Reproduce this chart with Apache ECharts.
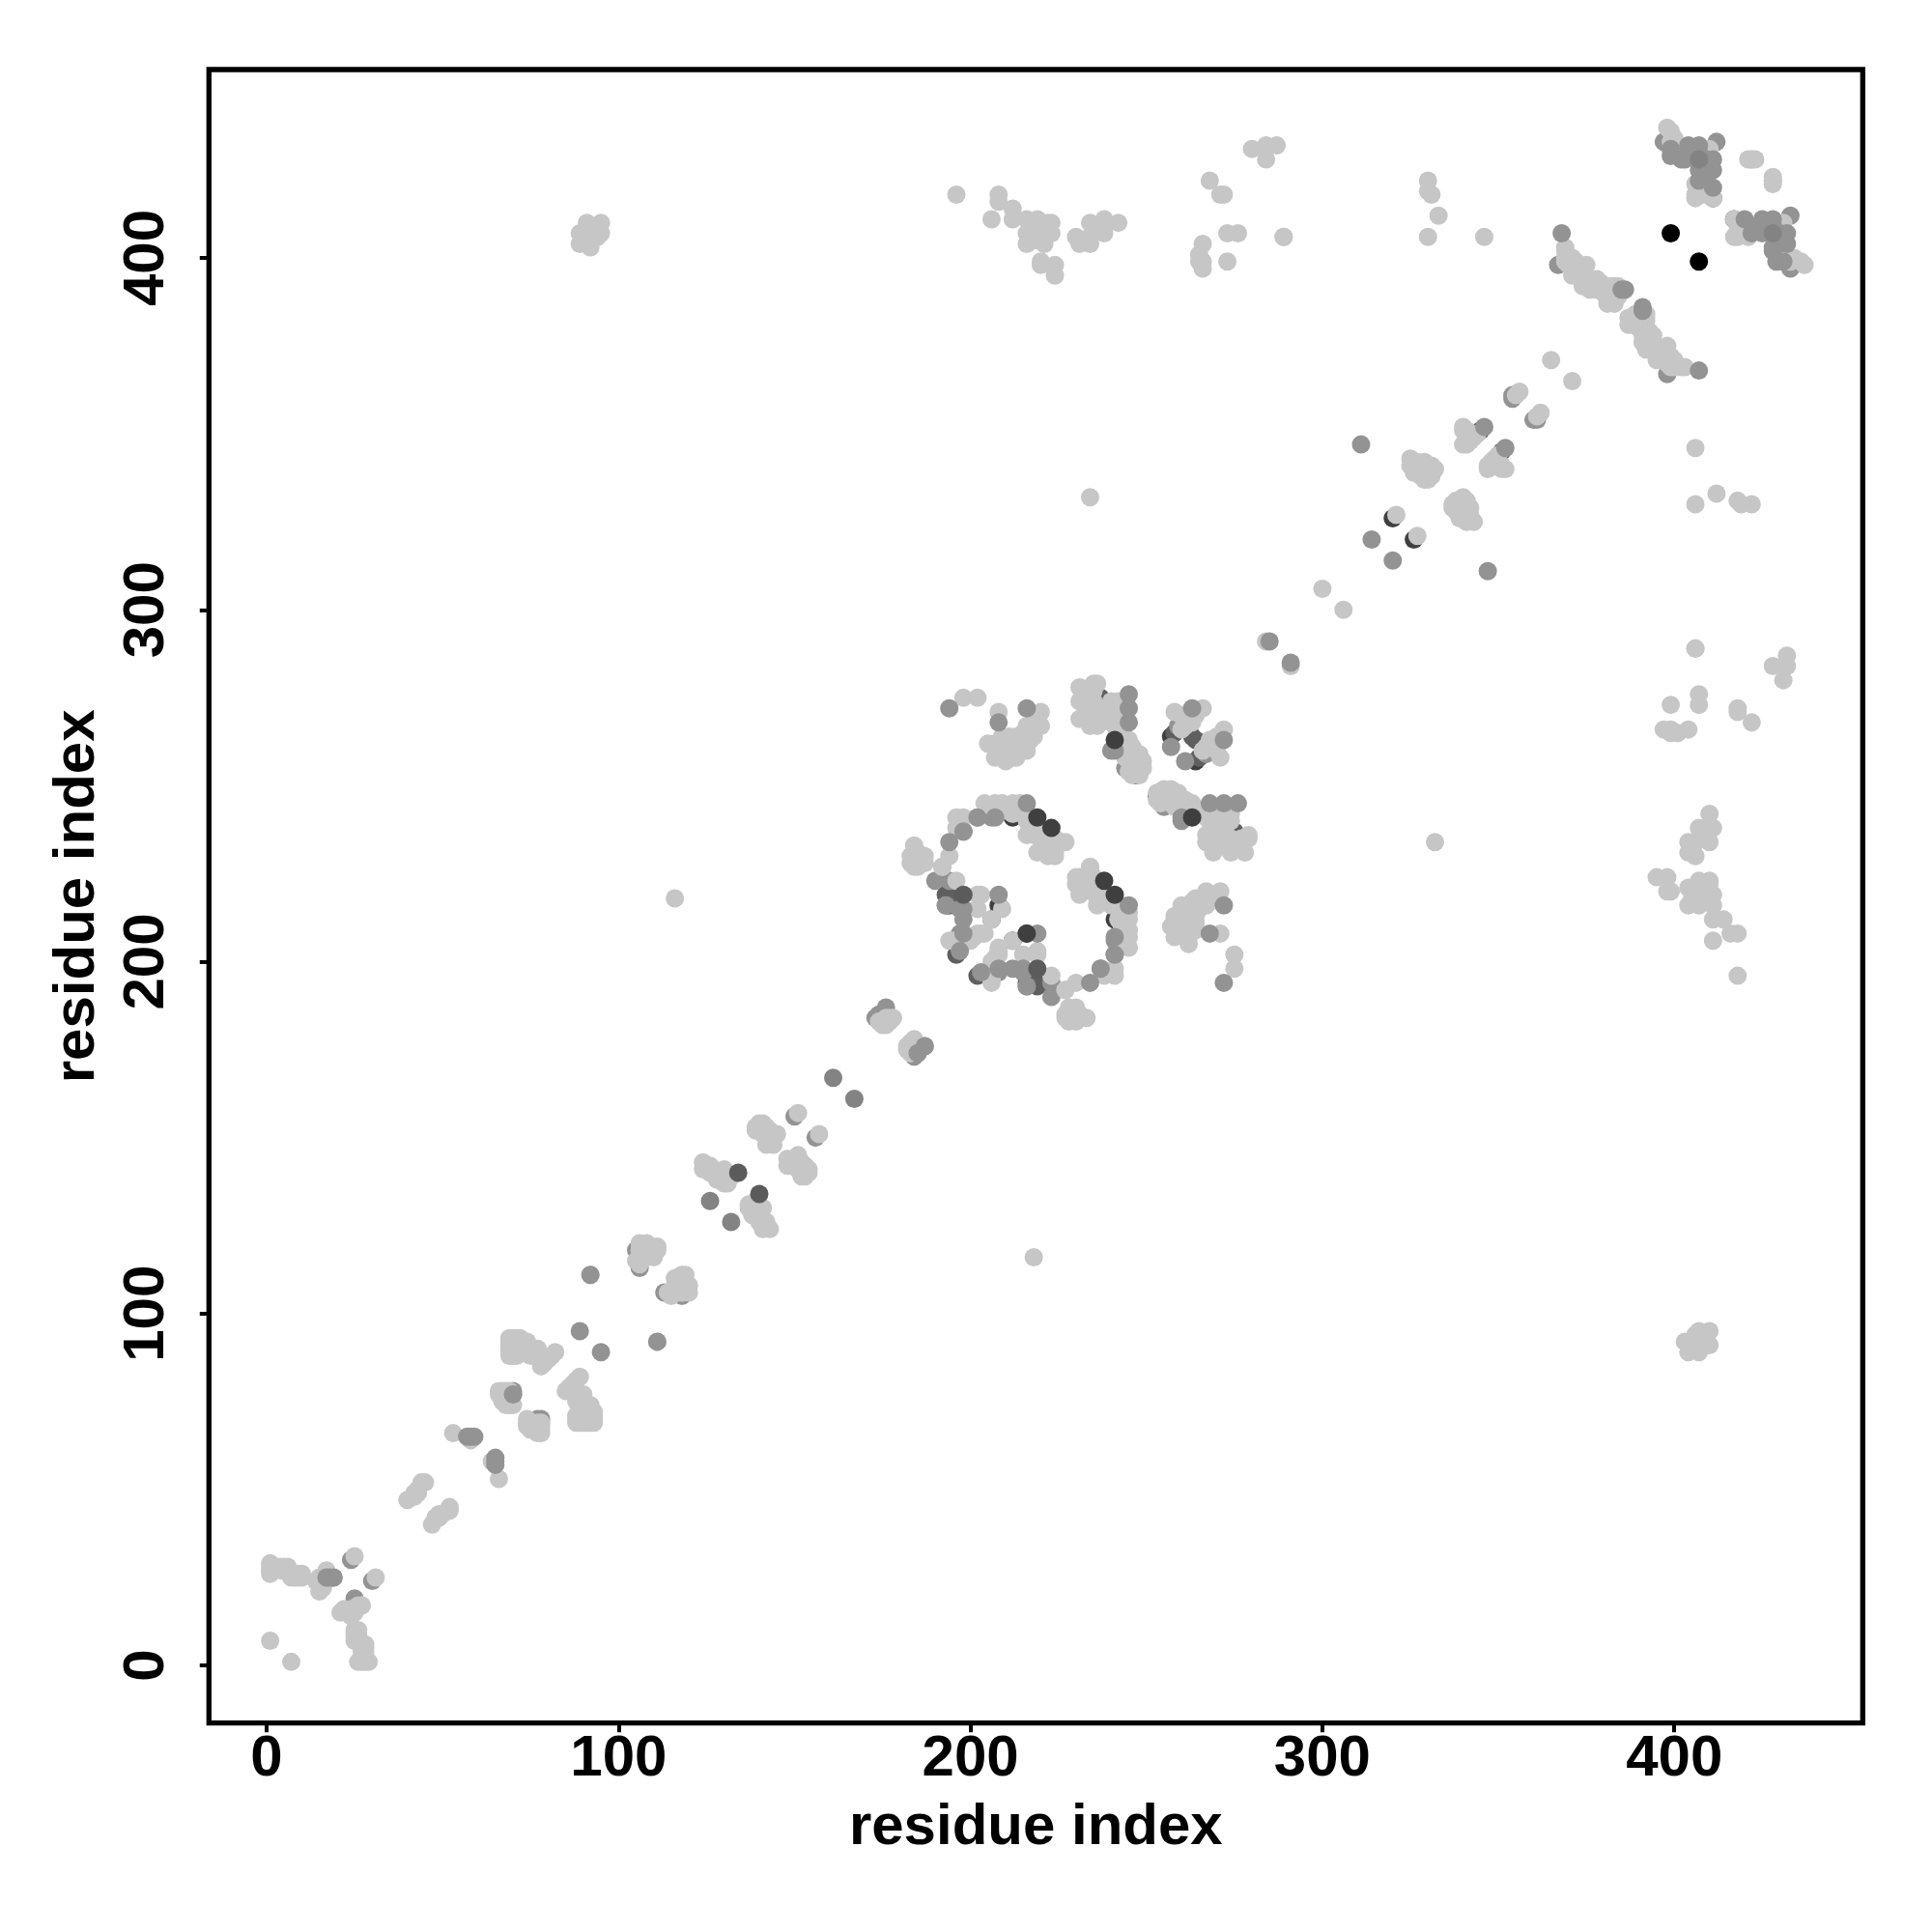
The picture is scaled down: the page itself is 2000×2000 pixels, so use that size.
<!DOCTYPE html>
<html><head><meta charset="utf-8">
<script src="https://cdn.jsdelivr.net/npm/echarts@6/dist/echarts.min.js"></script>
<style>html,body{margin:0;padding:0;background:#fff}#c{width:2000px;height:2000px}</style>
</head><body><div id="c"></div>
<script>
const tickValues = [0,100,200,300,400];
const axisTitle = 'residue index';
// contacts [i,j], each drawn also at [j,i]
const underVeryDark = [[212,241],[257,264],[320,326],[208,216]];
const underDark = [[194,219],[193,219],[196,202],[193,223],[237,275],[233,271],[247,253],[259,266],[258,265],[263,264],[345,351],[206,212],[411,417],[194,216]];
const underMid = [[24,30],[17,25],[18,25],[19,25],[106,113],[105,118],[109,118],[150,156],[173,184],[174,184],[174,185],[176,187],[70,77],[70,78],[244,255],[354,360],[314,320],[367,398],[385,391],[383,389],[193,216],[202,241],[206,241],[198,237],[190,223],[197,208],[197,215],[194,223],[354,361],[412,433],[397,433],[240,260],[259,267],[257,261]];
const lightPairs = [
[1,7],[1,26],[1,27],[1,28],[1,29],[3,28],[4,28],[5,28],[6,28],[4,27],[5,27],[6,27],[7,26],[7,25],[8,26],[8,25],[9,26],[9,25],[10,26],[10,25],[15,21],[15,24],[15,25],[16,22],[16,24],[17,27],[17,26],[14,24],[25,31],
[40,47],[42,48],[42,49],[43,49],[43,50],[44,52],[45,52],[53,66],[58,64],
[66,78],[67,78],[68,78],[66,77],[67,76],[67,75],[68,74],[69,74],[69,77],[68,76],[70,74],[69,78],
[69,88],[69,89],[69,90],[69,91],[69,92],[69,93],[70,93],[71,93],[72,93],[70,92],[71,92],[72,92],[70,90],[71,90],[72,90],[70,88],[71,88],[73,91],[74,92],[74,90],[75,90],[76,89],[77,90],[77,88],[78,87],[78,85],[79,86],[80,87],[81,88],[82,89],[78,88],[75,88],
[92,111],[106,114],[105,115],[106,116],[108,116],[110,116],[107,119],[106,120],[108,120],[111,118],[111,119],[106,118],
[124,143],[124,141],[125,142],[126,142],[126,140],[127,141],[128,140],[128,138],[129,140],[130,140],[130,137],[131,137],[132,139],[130,141],
[139,153],[140,154],[141,154],[142,153],[139,152],[140,152],[141,151],[143,152],[144,150],[145,151],[142,150],[142,148],[143,149],[144,148],[151,157],
[174,183],[175,183],[176,184],[177,184],[176,182],[178,184],[177,183],[175,182],
[183,228],[183,230],[184,233],[185,231],[187,230],[187,228],[185,227],[186,229],[184,227],[184,229],[192,227],[194,230],[196,241],[198,241],[196,238],[196,223],[202,219],[202,215],[203,219],[206,212],[203,208],[201,207],[202,208],[204,208],[194,206],[195,206],[200,206],
[204,245],[207,245],[209,245],[212,245],[214,245],[205,243],[208,243],[210,243],[212,243],[214,243],[216,243],[212,242],[215,242],[216,240],[216,241],[217,238],[217,237],[218,236],[219,238],[219,237],[220,236],[216,236],[220,232],[221,231],[221,234],[222,233],[222,230],[223,232],[223,231],[224,231],[224,230],[224,235],[226,234],[227,234],[219,231],[221,235],[227,192],
[231,278],[235,279],[231,274],[234,267],[234,271],[235,274],[237,272],[237,268],[240,272],[240,268],[242,274],[242,270],[243,268],[243,266],[245,263],[246,261],[248,259],[249,255],[248,257],[246,256],[244,258],[245,254],[244,262],[246,253],[246,255],[247,256],[247,254],[249,257],[245,257],[248,253],[241,267],[242,266],[235,277],[238,269],[240,274],
[231,269],[233,275],[236,279],[234,274],[236,267],[238,272],
[258,271],[261,268],[262,269],[260,270],[263,268],[261,267],[260,266],[264,270],[266,272],
[205,262],[207,258],[210,257],[213,258],[212,260],[208,260],[210,262],[215,265],[217,263],[214,262],[211,264],[216,260],[213,264],[216,267],[220,267],[218,268],[220,271],[218,266],[209,264],[207,262],[208,271],[202,275],[198,275],[212,258],[214,260],[218,264],
[116,218],[284,291],[300,306],[321,327],
[325,343],[325,341],[326,342],[327,340],[326,339],[328,338],[329,337],[330,337],[330,339],[331,341],[330,341],[332,340],[331,338],[328,340],[327,342],[329,342],
[340,352],[340,351],[341,351],[340,347],[341,347],[342,348],[343,349],[344,350],[341,349],[342,350],
[355,361],[356,362],[365,371],
[369,403],[369,402],[370,400],[370,398],[371,400],[372,396],[371,395],[373,398],[374,392],[375,398],[376,394],[377,392],[378,391],[379,393],[381,388],[382,392],[383,387],[384,389],[383,392],[381,387],[380,390],[372,399],[374,396],[376,391],[378,394],[382,389],[384,392],[369,400],[369,399],
[89,407],[89,404],[92,403],[91,410],[95,410],[95,407],[92,407],[90,406],[94,406],
[196,418],[208,418],[208,416],[206,411],[212,414],[212,411],[216,411],[219,411],[223,410],[218,410],[216,407],[223,407],[216,404],[219,407],[221,404],[220,399],[220,398],[224,398],[224,395],[222,410],[220,408],[218,405],[221,406],
[230,406],[231,404],[234,404],[234,410],[238,411],[238,407],[242,410],[234,406],
[266,404],[266,399],[266,397],[273,407],[276,407],[273,399],[268,422],[271,418],[272,418],[289,406],[280,431],[284,432],[287,432],[284,428],
[330,406],[330,419],[330,422],[331,418],[333,412],[346,406],[234,332],
[406,289],
[398,437],[399,433],[400,434],[410,431],[406,418],[406,421],[411,417],[406,417],[410,420],[408,418],[422,428],[423,428],[428,421],[428,422],[399,436],
[265,399],[265,401]
];
const lightOneSided = [[209,215],[27,17]];
const topMid = [[57,65],[58,65],[59,65],[89,95],[92,111],
[198,212],[198,215],[198,208],[197,203],[208,219],[194,234],[198,237],[202,241],[207,241],[216,245],[193,216],
[245,268],[245,272],[245,276],[216,272],[263,272],[208,268],[194,272],[241,260],[285,291],
[368,407],[385,391],[386,391],[346,352],[311,347],
[399,429],[403,428],[404,432],[407,432],[411,428],[411,425],[407,425],[407,422],[411,420],[399,431],[402,428],[407,430],[409,428],[409,424],[404,430]];
const midOneSided = [[70,77],[17,25],[18,25],[19,25],[187,176],[185,174]];
const midGreyPairs = [[126,132],[161,167],[407,428]];
const topDark = [[134,140],[198,219]];
const topVeryDark = [[219,241],[223,238],[241,263]];
const veryDarkOneSided = [[216,208]];
const blackPairs = [[399,407]];

const GREY = {veryDark:'#3f3f3f',dark:'#5f5f5f',mid:'#939393',light:'#c6c6c6',midGrey:'#838383',topDark:'#5b5b5b',black:'#000000'};
const both = a => { const out=[]; a.forEach(p=>{ out.push([p[0],p[1]]); out.push([p[1],p[0]]); }); return out; };
const layerData = (data,color) => ({type:'scatter',data,symbol:'circle',symbolSize:19,itemStyle:{color,opacity:1},silent:true,animation:false,large:false,clip:false});
const layer = (arr,color) => layerData(both(arr),color);
const axisCommon = {
  type:'value',min:-16.39,max:453.55,name:axisTitle,nameLocation:'middle',
  nameTextStyle:{fontFamily:'Liberation Sans',fontWeight:'bold',fontSize:60,color:'#000'},
  axisLine:{show:false,onZero:false},splitLine:{show:false},
  axisTick:{show:true,length:9.5,inside:false,lineStyle:{color:'#000',width:4},customValues:tickValues}
};
const chart = echarts.init(document.getElementById('c'),null,{renderer:'canvas'});
chart.setOption({
  backgroundColor:'#fff',animation:false,
  grid:{show:true,left:216.3,top:72,width:1712,height:1711.7,borderColor:'#000',borderWidth:5.3,backgroundColor:'transparent',containLabel:false},
  xAxis:Object.assign({},axisCommon,{nameGap:79,
    axisLabel:{fontFamily:'Liberation Sans',fontWeight:'bold',fontSize:60,color:'#000',margin:8,customValues:tickValues}}),
  yAxis:Object.assign({},axisCommon,{nameGap:106,
    axisLabel:{fontFamily:'Liberation Sans',fontWeight:'bold',fontSize:60,color:'#000',margin:34,rotate:90,customValues:tickValues}}),
  series:[
    layer(underVeryDark,GREY.veryDark),
    layer(underDark,GREY.dark),
    layer(underMid,GREY.mid),
    layer(lightPairs,GREY.light),
    layerData(lightOneSided,GREY.light),
    layer(topMid,GREY.mid),
    layerData(midOneSided,GREY.mid),
    layer(midGreyPairs,GREY.midGrey),
    layer(topDark,GREY.topDark),
    layer(topVeryDark,GREY.veryDark),
    layerData(veryDarkOneSided,GREY.veryDark),
    layer(blackPairs,GREY.black)
  ]
});
</script></body></html>
